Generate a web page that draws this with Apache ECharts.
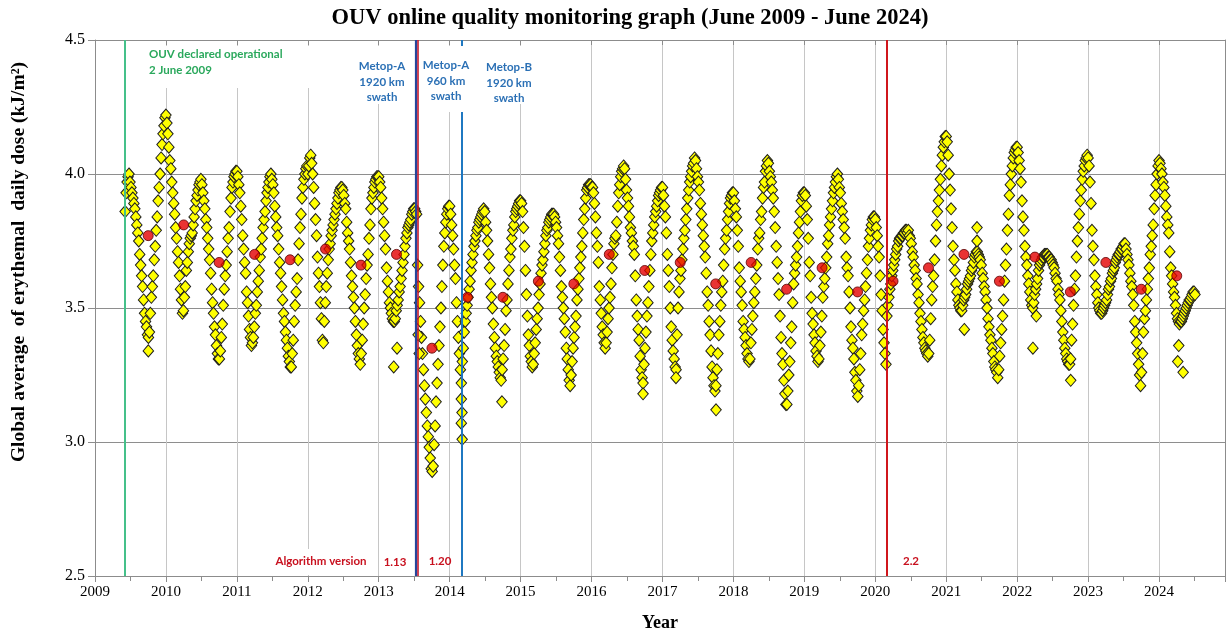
<!DOCTYPE html>
<html>
<head>
<meta charset="utf-8">
<script src="https://cdn.jsdelivr.net/npm/echarts@6/dist/echarts.min.js"></script>
<style>
  html, body { margin: 0; padding: 0; background: #fff; }
  #chart { width: 1227px; height: 632px; }
</style>
</head>
<body>
<div id="chart"></div>
<script>
// Global average of erythemal daily dose, sampled every 5 days (73 steps per year).
// Each array holds one calendar year; index k sits at year + k/73.
const uv2009 = [3.86,3.93,3.97,3.99,4.00,3.97,3.95,3.93,3.91,3.89,3.87,3.84,3.81,3.78,3.75,3.70,3.66,3.62,3.58,3.53,
  3.48,3.45,3.43,3.40,3.39,3.41,3.48,3.54,3.58,3.62,3.68,3.73,3.79,3.84,3.90,3.95,4.00,4.06,4.11,4.15,4.18,4.21];
const uv2010 = [4.22,4.19,4.15,4.10,4.05,4.02,3.97,3.93,3.89,3.85,3.80,3.76,3.71,3.67,3.62,3.57,3.53,3.48,3.49,3.54,
  3.58,3.64,3.67,3.71,3.74,3.76,3.77,3.78,3.81,3.84,3.87,3.90,3.92,3.94,3.96,3.97,3.98,3.96,3.93,3.90,
  3.87,3.83,3.80,3.76,3.72,3.68,3.63,3.57,3.52,3.48,3.43,3.40,3.36,3.33,3.31,3.31,3.34,3.39,3.44,3.51,
  3.57,3.62,3.66,3.71,3.76,3.80,3.86,3.91,3.95,3.97,3.99,4.00,4.01];
const uv2011 = [4.01,3.99,3.96,3.93,3.88,3.83,3.77,3.72,3.67,3.63,3.56,3.52,3.47,3.42,3.39,3.36,3.37,3.39,3.43,3.48,
  3.51,3.56,3.60,3.64,3.69,3.72,3.76,3.80,3.83,3.86,3.90,3.93,3.95,3.97,3.99,4.00,3.98,3.96,3.93,3.88,
  3.84,3.80,3.77,3.72,3.67,3.63,3.58,3.53,3.48,3.45,3.41,3.38,3.35,3.32,3.30,3.28,3.28,3.33,3.38,3.45,
  3.51,3.56,3.61,3.68,3.74,3.80,3.85,3.91,3.95,3.98,4.00,4.02,4.03];
const uv2012 = [4.00,4.03,4.06,4.07,4.04,4.00,3.95,3.89,3.83,3.77,3.69,3.63,3.58,3.52,3.46,3.38,3.37,3.45,3.52,3.58,
  3.63,3.68,3.72,3.74,3.77,3.79,3.81,3.83,3.85,3.87,3.89,3.91,3.93,3.94,3.95,3.95,3.94,3.92,3.89,3.87,
  3.82,3.78,3.75,3.72,3.67,3.62,3.58,3.54,3.50,3.45,3.40,3.36,3.33,3.31,3.29,3.33,3.38,3.44,3.50,3.55,
  3.61,3.66,3.70,3.76,3.81,3.87,3.91,3.93,3.95,3.97,3.98,3.99,3.99];
const uv2013 = [3.99,3.97,3.95,3.91,3.87,3.82,3.77,3.72,3.65,3.60,3.56,3.52,3.50,3.48,3.46,3.45,3.45,3.46,3.49,3.51,
  3.53,3.56,3.58,3.61,3.64,3.67,3.70,3.73,3.76,3.78,3.80,3.81,3.82,3.83,3.85,3.86,3.87,3.87,3.86,3.85,
  3.66,3.58,3.52,3.45,3.39,3.33,3.27,3.21,3.16,3.11,3.06,3.02,2.98,2.94,2.90,2.89,2.91,2.99,3.06,3.15,
  3.22,3.29,3.36,3.43,3.50,3.58,3.66,3.73,3.78,3.82,3.85,3.87,3.88];
const uv2014 = [3.88,3.85,3.81,3.77,3.72,3.66,3.61,3.52,3.45,3.39,3.33,3.27,3.22,3.30,3.35,3.41,3.45,3.48,3.51,3.54,
  3.57,3.60,3.64,3.67,3.70,3.73,3.75,3.77,3.79,3.80,3.82,3.83,3.84,3.85,3.86,3.87,3.86,3.82,3.79,3.75,
  3.70,3.65,3.59,3.54,3.50,3.44,3.39,3.35,3.32,3.30,3.28,3.26,3.24,3.23,3.27,3.31,3.36,3.42,3.49,3.53,
  3.59,3.64,3.69,3.72,3.76,3.79,3.81,3.84,3.86,3.87,3.88,3.89,3.90];
const uv2015 = [3.90,3.89,3.86,3.80,3.73,3.64,3.55,3.47,3.40,3.36,3.32,3.30,3.28,3.29,3.33,3.37,3.42,3.46,3.50,3.55,
  3.59,3.63,3.66,3.68,3.71,3.74,3.77,3.79,3.80,3.82,3.83,3.84,3.85,3.85,3.85,3.84,3.82,3.80,3.77,3.74,
  3.69,3.64,3.58,3.54,3.50,3.46,3.41,3.35,3.31,3.27,3.23,3.21,3.25,3.30,3.35,3.39,3.43,3.47,3.53,3.57,
  3.61,3.65,3.69,3.73,3.78,3.83,3.87,3.91,3.94,3.95,3.96,3.96,3.96];
const uv2016 = [3.95,3.95,3.93,3.89,3.84,3.78,3.73,3.67,3.58,3.53,3.48,3.43,3.40,3.37,3.35,3.37,3.41,3.46,3.50,3.54,
  3.59,3.65,3.70,3.74,3.76,3.77,3.82,3.88,3.93,3.96,3.99,4.01,4.02,4.03,4.02,3.98,3.94,3.91,3.88,3.84,
  3.80,3.78,3.75,3.73,3.70,3.62,3.53,3.47,3.42,3.38,3.32,3.27,3.24,3.22,3.29,3.35,3.41,3.47,3.52,3.58,
  3.64,3.70,3.75,3.78,3.81,3.84,3.86,3.88,3.90,3.92,3.93,3.94,3.95];
const uv2017 = [3.95,3.92,3.88,3.84,3.78,3.70,3.64,3.58,3.50,3.43,3.38,3.34,3.31,3.28,3.27,3.40,3.50,3.56,3.61,3.64,
  3.68,3.72,3.76,3.79,3.83,3.87,3.91,3.94,3.97,3.99,4.01,4.03,4.04,4.06,4.05,4.02,3.99,3.97,3.94,3.89,
  3.85,3.81,3.77,3.73,3.69,3.63,3.56,3.51,3.45,3.40,3.34,3.28,3.24,3.21,3.19,3.21,3.27,3.33,3.40,3.45,
  3.51,3.56,3.60,3.66,3.72,3.76,3.79,3.83,3.86,3.89,3.91,3.92,3.93];
const uv2018 = [3.93,3.90,3.87,3.84,3.79,3.73,3.65,3.60,3.56,3.51,3.45,3.42,3.39,3.36,3.33,3.31,3.30,3.31,3.37,3.42,
  3.47,3.52,3.56,3.61,3.66,3.72,3.76,3.78,3.83,3.86,3.91,3.95,3.97,4.01,4.03,4.05,4.04,4.01,3.99,3.97,
  3.94,3.91,3.86,3.80,3.73,3.67,3.61,3.55,3.47,3.39,3.33,3.29,3.23,3.18,3.14,3.14,3.19,3.25,3.30,3.37,
  3.43,3.52,3.59,3.63,3.66,3.69,3.73,3.78,3.82,3.86,3.90,3.92,3.93];
const uv2019 = [3.93,3.92,3.88,3.83,3.76,3.67,3.62,3.54,3.48,3.44,3.40,3.37,3.34,3.32,3.30,3.31,3.36,3.41,3.47,3.54,
  3.58,3.61,3.65,3.69,3.74,3.77,3.81,3.84,3.87,3.90,3.93,3.95,3.97,3.99,4.00,3.98,3.95,3.93,3.89,3.86,
  3.83,3.80,3.76,3.69,3.65,3.62,3.56,3.50,3.43,3.38,3.35,3.31,3.26,3.23,3.19,3.17,3.21,3.27,3.33,3.40,
  3.44,3.49,3.53,3.58,3.63,3.68,3.73,3.76,3.79,3.81,3.83,3.84,3.84];
const uv2020 = [3.83,3.80,3.77,3.73,3.69,3.62,3.55,3.49,3.42,3.37,3.33,3.29,3.47,3.51,3.54,3.57,3.59,3.62,3.64,3.66,
  3.68,3.70,3.72,3.73,3.75,3.76,3.76,3.77,3.77,3.78,3.78,3.79,3.79,3.78,3.79,3.77,3.76,3.74,3.71,3.69,
  3.66,3.64,3.61,3.59,3.55,3.52,3.48,3.45,3.42,3.39,3.37,3.35,3.34,3.33,3.32,3.33,3.38,3.46,3.53,3.58,
  3.62,3.68,3.75,3.81,3.86,3.90,3.94,3.98,4.03,4.07,4.10,4.12,4.14];
const uv2021 = [4.14,4.12,4.07,4.00,3.94,3.87,3.80,3.73,3.68,3.64,3.59,3.56,3.53,3.51,3.50,3.49,3.49,3.51,3.53,3.54,
  3.55,3.57,3.59,3.60,3.61,3.62,3.64,3.65,3.67,3.69,3.70,3.71,3.71,3.70,3.69,3.68,3.66,3.63,3.61,3.58,
  3.56,3.53,3.50,3.46,3.43,3.40,3.38,3.35,3.33,3.30,3.28,3.27,3.26,3.24,3.27,3.32,3.37,3.42,3.47,3.53,
  3.60,3.66,3.72,3.79,3.85,3.92,3.96,4.00,4.03,4.06,4.08,4.09,4.10];
const uv2022 = [4.10,4.08,4.05,4.02,3.97,3.90,3.84,3.79,3.73,3.69,3.66,3.62,3.59,3.56,3.53,3.51,3.50,3.52,3.55,3.57,
  3.59,3.61,3.64,3.66,3.67,3.68,3.69,3.69,3.70,3.70,3.70,3.70,3.69,3.69,3.68,3.68,3.67,3.66,3.65,3.63,
  3.61,3.60,3.57,3.55,3.53,3.49,3.45,3.41,3.38,3.35,3.33,3.31,3.30,3.29,3.29,3.31,3.38,3.44,3.51,3.57,
  3.62,3.69,3.75,3.80,3.85,3.90,3.94,3.98,4.01,4.03,4.05,4.06,4.07];
const uv2023 = [4.06,4.03,3.97,3.89,3.79,3.73,3.68,3.62,3.58,3.55,3.52,3.50,3.49,3.48,3.48,3.49,3.50,3.51,3.52,3.53,
  3.55,3.57,3.58,3.60,3.61,3.63,3.64,3.65,3.67,3.68,3.69,3.70,3.70,3.71,3.72,3.72,3.73,3.74,3.74,3.72,
  3.70,3.68,3.66,3.63,3.60,3.58,3.55,3.51,3.45,3.41,3.37,3.33,3.29,3.25,3.21,3.26,3.33,3.41,3.46,3.49,
  3.53,3.57,3.61,3.65,3.70,3.73,3.77,3.81,3.87,3.92,3.96,4.00,4.03];
const uv2024 = [4.05,4.04,4.02,4.00,3.97,3.95,3.92,3.88,3.84,3.81,3.78,3.71,3.65,3.62,3.59,3.56,3.54,3.51,3.48,3.46,
  3.45,3.44,3.45,3.45,3.46,3.47,3.48,3.49,3.50,3.51,3.52,3.53,3.53,3.54,3.55,3.56,3.56,3.55];

// [year, first step index, values]; monitoring starts on 2 June 2009
const yearBlocks = [
  [2009, 31, uv2009], [2010, 0, uv2010], [2011, 0, uv2011], [2012, 0, uv2012],
  [2013, 0, uv2013], [2014, 0, uv2014], [2015, 0, uv2015], [2016, 0, uv2016],
  [2017, 0, uv2017], [2018, 0, uv2018], [2019, 0, uv2019], [2020, 0, uv2020],
  [2021, 0, uv2021], [2022, 0, uv2022], [2023, 0, uv2023], [2024, 0, uv2024]
];
const STEPS_PER_YEAR = 73;

// Isolated daily values away from the main band: [decimal year, dose]
const strayDays = [
  [2009.752, 3.34], [2013.211, 3.28], [2013.258, 3.35], [2013.555, 3.40], [2013.570, 3.33],
  [2014.164, 3.16], [2014.174, 3.11], [2014.164, 3.07], [2014.176, 3.01], [2014.737, 3.15],
  [2016.726, 3.18], [2017.190, 3.24], [2017.755, 3.12], [2021.255, 3.42], [2021.434, 3.80],
  [2021.434, 3.75], [2022.222, 3.35], [2022.270, 3.47], [2022.755, 3.23], [2024.278, 3.36],
  [2024.264, 3.30], [2024.340, 3.26]
];

// Half-year averages, first one centred on 2009.75, then every half year
const halfYearStart = 2009.75;
const halfYearMeans = [3.77, 3.81, 3.67, 3.70, 3.68, 3.72, 3.66, 3.70, 3.35, 3.54,
  3.54, 3.60, 3.59, 3.70, 3.64, 3.67, 3.59, 3.67, 3.57, 3.65,
  3.56, 3.60, 3.65, 3.70, 3.60, 3.69, 3.56, 3.67, 3.57, 3.62];

// Instrument / algorithm change dates (decimal years)
const eventYears = { operational: 2009.417, metopA960: 2013.521, algo120: 2013.545, metopB: 2014.172, algo22: 2020.157 };

const yTicks = [2.5, 3.0, 3.5, 4.0, 4.5];
const X_MIN = 2009, X_MAX = 2024.93;

const dailyPoints = [];
yearBlocks.forEach(([yr, k0, vals]) => {
  vals.forEach((v, i) => dailyPoints.push([yr + (k0 + i) / STEPS_PER_YEAR, v]));
});
strayDays.forEach(p => dailyPoints.push(p));
const meanPoints = halfYearMeans.map((v, i) => [halfYearStart + 0.5 * i, v]);

const serif = "'Liberation Serif','Times New Roman',serif";
const note = "Lato,'Open Sans',sans-serif";
const axisGrey = '#8c8c8c';
const green = '#2aa85c', blue = '#2b70b5', red = '#c8101e';

const chart = echarts.init(document.getElementById('chart'), null, { renderer: 'canvas' });

function noteText(x, y, text, color, align) {
  return { type: 'text', z: 11, x: x, y: y,
    style: { text: text, fill: color, font: 'bold 11.5px ' + note, textAlign: align || 'center', textVerticalAlign: 'middle' } };
}
function mask(x, y, w, h) {
  return { type: 'rect', z: 10, shape: { x: x, y: y, width: w, height: h }, style: { fill: '#fff' }, silent: true };
}

const option = {
  animation: false,
  backgroundColor: '#fff',
  grid: { left: 95, right: 2, top: 40, bottom: 56, containLabel: false, outerBoundsMode: 'none' },
  xAxis: [
    {
      type: 'value', min: X_MIN, max: X_MAX, interval: 1, position: 'bottom',
      axisLine: { show: true, onZero: false, lineStyle: { color: axisGrey, width: 1 } },
      axisTick: { show: true, length: 6, lineStyle: { color: axisGrey } },
      minorTick: { show: true, splitNumber: 2, length: 5, lineStyle: { color: axisGrey } },
      minorSplitLine: { show: false },
      axisLabel: { formatter: v => Number.isInteger(v) ? String(v) : '', fontFamily: serif, fontSize: 15, color: '#000', margin: 9 },
      splitLine: { show: true, lineStyle: { color: '#c6c6c6', width: 1 } },
      name: 'Year', nameLocation: 'middle', nameGap: 38,
      nameTextStyle: { fontFamily: serif, fontWeight: 'bold', fontSize: 18, color: '#000' }
    },
    {
      type: 'value', min: X_MIN, max: X_MAX, interval: 1, position: 'top',
      axisLine: { show: true, onZero: false, lineStyle: { color: axisGrey } },
      axisTick: { show: true, inside: true, length: 5, lineStyle: { color: axisGrey } },
      axisLabel: { show: false }, splitLine: { show: false }
    }
  ],
  yAxis: [
    {
      type: 'value', min: yTicks[0], max: yTicks[yTicks.length - 1], interval: 0.5,
      axisLine: { show: true, lineStyle: { color: axisGrey } },
      axisTick: { show: true, length: 7, lineStyle: { color: axisGrey } },
      axisLabel: { formatter: v => v.toFixed(1), fontFamily: serif, fontSize: 16, color: '#000', margin: 10 },
      splitLine: { show: true, lineStyle: { color: '#8e8e8e', width: 1 } }
    },
    {
      type: 'value', min: yTicks[0], max: yTicks[yTicks.length - 1], interval: 0.5, position: 'right',
      axisLine: { show: true, lineStyle: { color: axisGrey } },
      axisTick: { show: false }, axisLabel: { show: false }, splitLine: { show: false }
    }
  ],
  series: [
    {
      name: 'Daily global average', type: 'scatter', data: dailyPoints,
      symbol: 'diamond', symbolSize: [10.5, 12], z: 3,
      itemStyle: { color: '#ffff00', borderColor: '#1e1e1e', borderWidth: 1, opacity: 1 }
    },
    {
      name: 'Half-year mean', type: 'scatter', data: meanPoints,
      symbol: 'circle', symbolSize: 10, z: 4,
      itemStyle: { color: '#e40000', borderColor: '#5a0000', borderWidth: 1 },
      markLine: {
        silent: true, symbol: ['none', 'none'], label: { show: false }, animation: false,
        lineStyle: { type: 'solid' },
        data: [
          { xAxis: eventYears.operational, lineStyle: { color: '#45c08a', width: 2, type: 'solid' } },
          { xAxis: eventYears.metopA960, lineStyle: { color: '#26459a', width: 2.2, type: 'solid' } },
          { xAxis: eventYears.algo120, lineStyle: { color: '#c4182c', width: 1.6, type: 'solid' } },
          { xAxis: eventYears.metopB, lineStyle: { color: '#1f78c1', width: 2, type: 'solid' } },
          { xAxis: eventYears.algo22, lineStyle: { color: '#d0161c', width: 2, type: 'solid' } }
        ]
      }
    }
  ],
  graphic: [
    { type: 'text', z: 11, x: 630, y: 18,
      style: { text: 'OUV online quality monitoring graph (June 2009 - June 2024)', fill: '#000',
        font: 'bold 22.5px ' + serif, textAlign: 'center', textVerticalAlign: 'middle' } },
    { type: 'text', z: 11, x: 19, y: 262, rotation: Math.PI / 2,
      style: { text: 'Global average  of erythemal  daily dose (kJ/m\u00b2)', fill: '#000',
        font: 'bold 19.5px ' + serif, textAlign: 'center', textVerticalAlign: 'middle' } },
    // text panels sit on white boxes over the grid
    mask(129, 46, 205, 42),
    mask(346, 46, 66, 58),
    mask(421, 46, 50, 66),
    mask(478, 46, 66, 58),
    mask(272, 549, 100, 26),
    noteText(149, 54, 'OUV declared operational', green, 'left'),
    noteText(149, 70, '2 June 2009', green, 'left'),
    noteText(382, 66, 'Metop-A', blue), noteText(382, 82, '1920 km', blue), noteText(382, 97, 'swath', blue),
    noteText(446, 65, 'Metop-A', blue), noteText(446, 81, '960 km', blue), noteText(446, 96, 'swath', blue),
    noteText(509, 67, 'Metop-B', blue), noteText(509, 83, '1920 km', blue), noteText(509, 98, 'swath', blue),
    noteText(321, 561, 'Algorithm version', red),
    noteText(395, 562, '1.13', red),
    noteText(440, 561, '1.20', red),
    noteText(911, 561, '2.2', red)
  ]
};

chart.setOption(option);
</script>
</body>
</html>
